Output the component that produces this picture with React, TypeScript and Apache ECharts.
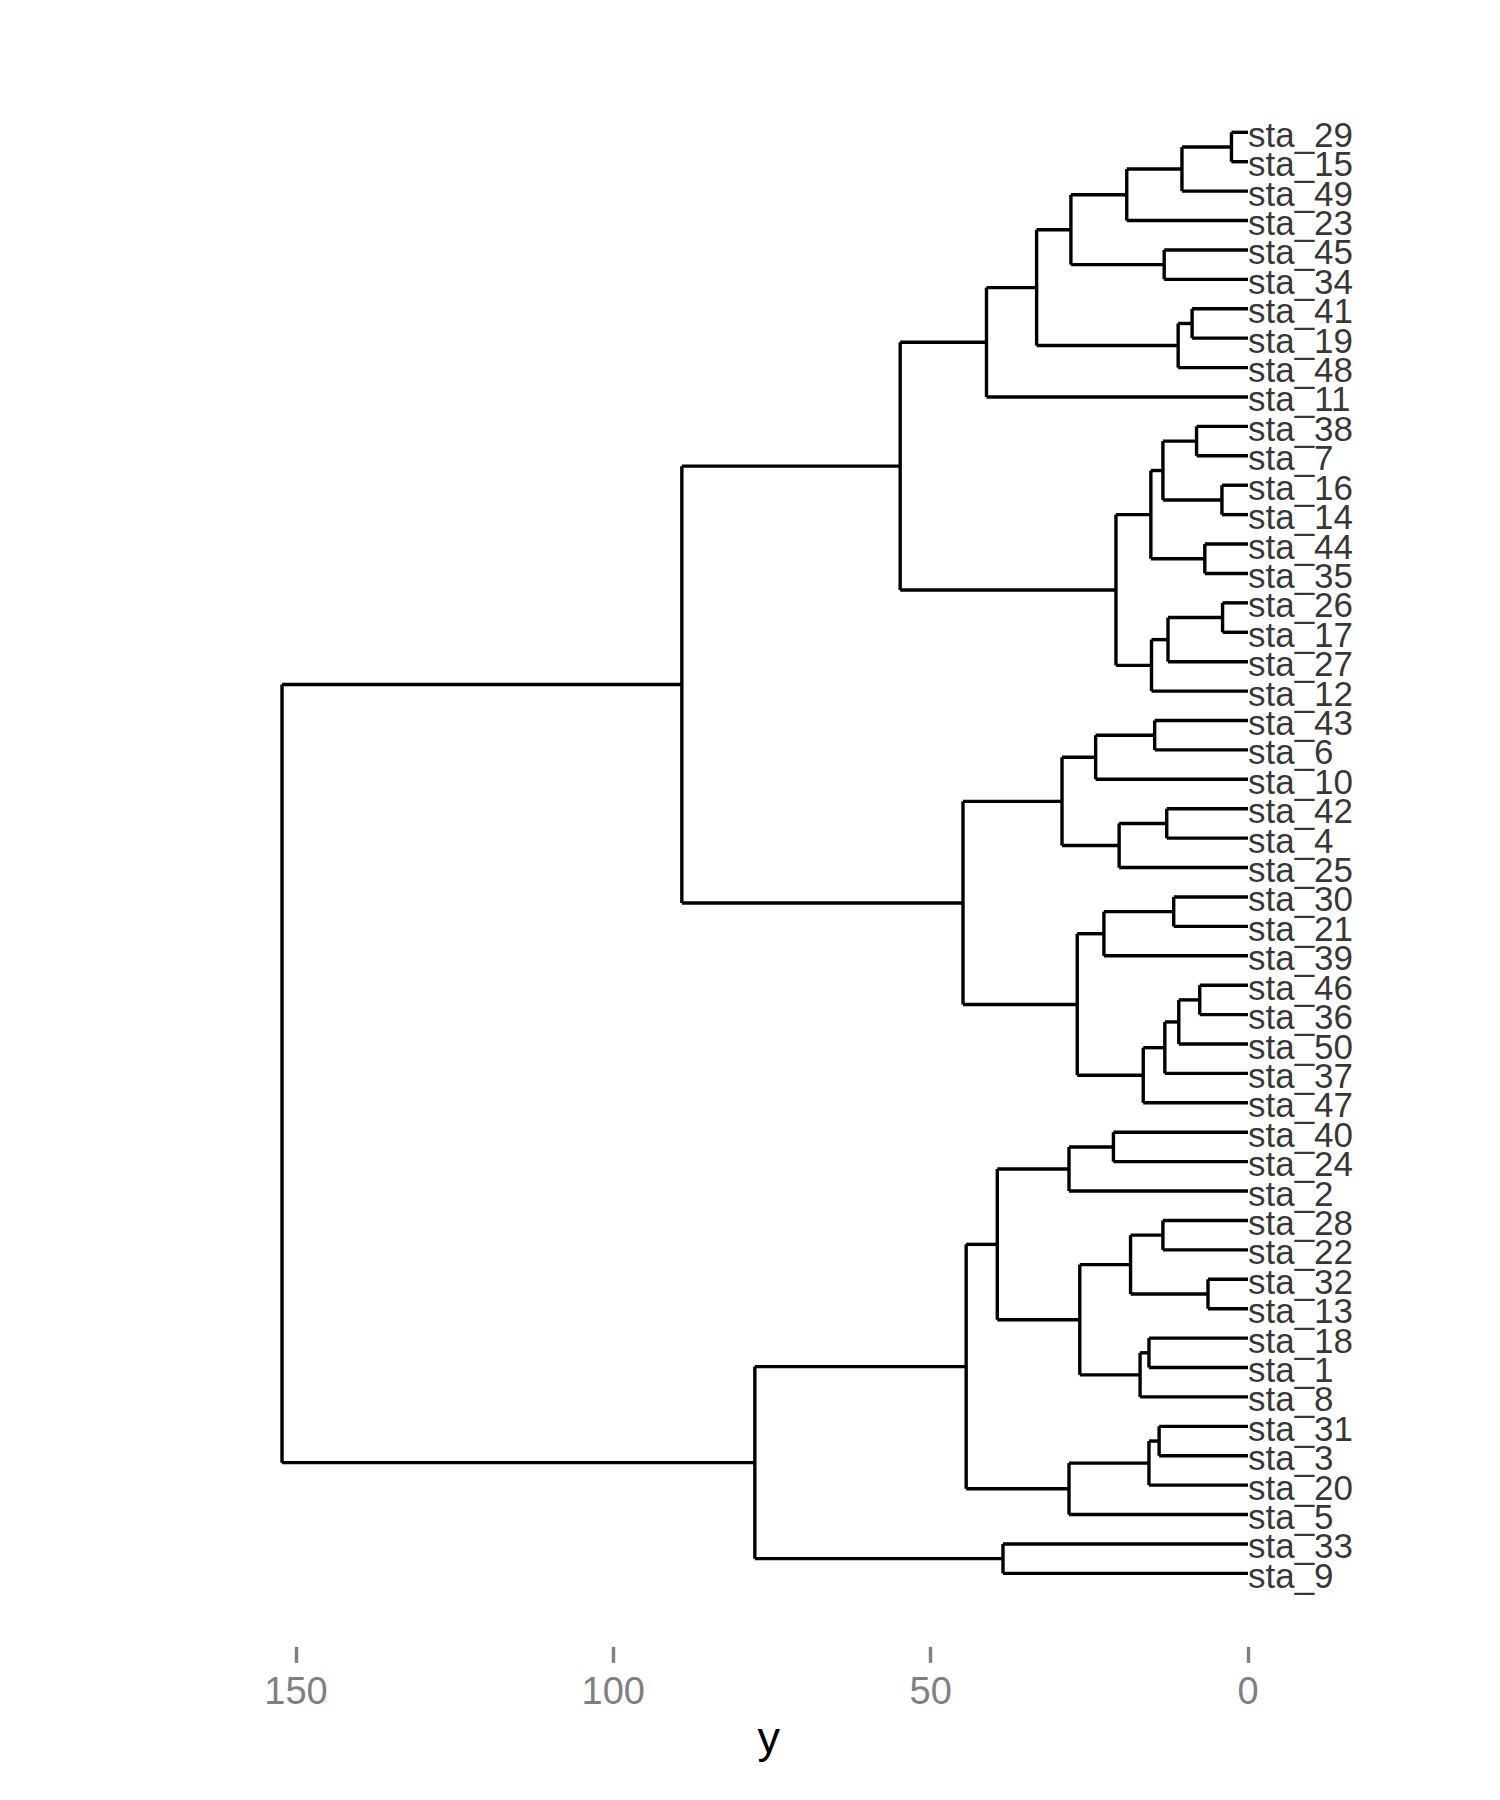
import { useEffect, useRef } from 'react'
import * as echarts from 'echarts'

// leaves, top to bottom
const leafLabels = [
  'sta_29', 'sta_15', 'sta_49', 'sta_23', 'sta_45', 'sta_34', 'sta_41', 'sta_19', 'sta_48', 'sta_11',
  'sta_38', 'sta_7', 'sta_16', 'sta_14', 'sta_44', 'sta_35', 'sta_26', 'sta_17', 'sta_27', 'sta_12',
  'sta_43', 'sta_6', 'sta_10', 'sta_42', 'sta_4', 'sta_25', 'sta_30', 'sta_21', 'sta_39', 'sta_46',
  'sta_36', 'sta_50', 'sta_37', 'sta_47', 'sta_40', 'sta_24', 'sta_2', 'sta_28', 'sta_22', 'sta_32',
  'sta_13', 'sta_18', 'sta_1', 'sta_8', 'sta_31', 'sta_3', 'sta_20', 'sta_5', 'sta_33', 'sta_9'
]

// hclust style merges: a child is a leaf name or the 1-based number of an earlier merge
const mergePairs: [string | number, string | number][] = [
  ['sta_29', 'sta_15'], [1, 'sta_49'], [2, 'sta_23'], ['sta_45', 'sta_34'], [3, 4],
  ['sta_41', 'sta_19'], [6, 'sta_48'], [5, 7], [8, 'sta_11'],
  ['sta_38', 'sta_7'], ['sta_16', 'sta_14'], [10, 11], ['sta_44', 'sta_35'], [12, 13],
  ['sta_26', 'sta_17'], [15, 'sta_27'], [16, 'sta_12'], [14, 17], [9, 18],
  ['sta_43', 'sta_6'], [20, 'sta_10'], ['sta_42', 'sta_4'], [22, 'sta_25'], [21, 23],
  ['sta_30', 'sta_21'], [25, 'sta_39'], ['sta_46', 'sta_36'], [27, 'sta_50'], [28, 'sta_37'],
  [29, 'sta_47'], [26, 30], [24, 31], [19, 32],
  ['sta_40', 'sta_24'], [34, 'sta_2'], ['sta_28', 'sta_22'], ['sta_32', 'sta_13'], [36, 37],
  ['sta_18', 'sta_1'], [39, 'sta_8'], [38, 40], [35, 41],
  ['sta_31', 'sta_3'], [43, 'sta_20'], [44, 'sta_5'], [42, 45],
  ['sta_33', 'sta_9'], [46, 47], [33, 48]
]

const mergeHeights = [
  2.6, 10.4, 19.1, 13.2, 27.9,
  8.8, 11.0, 33.3, 41.2,
  8.1, 4.1, 13.4, 6.8, 15.3,
  4.0, 12.6, 15.2, 20.8, 54.8,
  14.7, 24.0, 12.8, 20.3, 29.3,
  11.7, 22.7, 7.6, 10.9, 13.1,
  16.5, 26.9, 44.9, 89.2,
  21.2, 28.2, 13.4, 6.3, 18.5,
  15.6, 17.0, 26.5, 39.5,
  14.0, 15.6, 28.2, 44.4,
  38.6, 77.7, 152.2
]

const xTicks = [0, 50, 100, 150]

const FONT = '"Liberation Sans", Arial, sans-serif'

// turn the merges into elbow segments [h1, y1, h2, y2]
function buildSegments() {
  const leafPos: Record<string, number> = {}
  leafLabels.forEach((name, i) => { leafPos[name] = i + 1 })
  const nodeY: number[] = []
  const segs: number[][] = []
  const child = (c: string | number) =>
    typeof c === 'number'
      ? { y: nodeY[c - 1], h: mergeHeights[c - 1] }
      : { y: leafPos[c], h: 0 }

  mergePairs.forEach(([a, b], i) => {
    const h = mergeHeights[i]
    const ca = child(a)
    const cb = child(b)
    segs.push([h, ca.y, h, cb.y])
    segs.push([h, ca.y, ca.h, ca.y])
    segs.push([h, cb.y, cb.h, cb.y])
    nodeY.push((ca.y + cb.y) / 2)
  })
  return segs
}

export default function App() {
  const chartRef = useRef<HTMLDivElement>(null)

  useEffect(() => {
    if (!chartRef.current) return
    const chart = echarts.init(chartRef.current, null, { renderer: 'svg' })

    const segments = buildSegments()
    const leafData = leafLabels.map((name, i) => [0, i + 1, name])

    const option: echarts.EChartsOption = {
      animation: false,
      backgroundColor: '#fff',
      grid: {
        left: 241.4,
        right: 203.8,
        top: 117.6,
        bottom: 153.1,
        outerBoundsMode: 'none'
      } as any,
      xAxis: {
        type: 'value',
        inverse: true,
        min: -7.6,
        max: 158.6,
        name: 'y',
        nameLocation: 'middle',
        nameGap: 65,
        nameTextStyle: { fontSize: 45, color: '#000', fontFamily: FONT },
        axisLine: { show: false, onZero: false },
        splitLine: { show: false },
        axisTick: {
          show: true,
          length: 16,
          customValues: xTicks,
          lineStyle: { color: '#7f7f7f', width: 3.4 }
        } as any,
        axisLabel: {
          customValues: xTicks,
          color: '#7f7f7f',
          fontSize: 38,
          margin: 25,
          fontFamily: FONT
        } as any
      },
      yAxis: {
        type: 'value',
        inverse: true,
        min: 0.5,
        max: 52.5,
        show: false
      },
      series: [
        {
          type: 'custom',
          data: segments,
          encode: { x: [0, 2], y: [1, 3] },
          renderItem: (_params: any, api: any) => {
            const p1 = api.coord([api.value(0), api.value(1)])
            const p2 = api.coord([api.value(2), api.value(3)])
            return {
              type: 'line',
              shape: { x1: p1[0], y1: p1[1], x2: p2[0], y2: p2[1] },
              style: { stroke: '#000', lineWidth: 3.4, lineCap: 'butt' }
            }
          }
        },
        {
          type: 'scatter',
          data: leafData,
          symbolSize: 0,
          silent: true,
          label: {
            show: true,
            position: 'right',
            distance: 0,
            offset: [0, 2],
            formatter: (p: any) => p.value[2],
            color: '#000',
            fontSize: 35,
            fontFamily: FONT
          }
        }
      ]
    }

    chart.setOption(option)

    return () => {
      chart.dispose()
    }
  }, [])

  return (
    <div
      ref={chartRef}
      style={{ position: 'absolute', left: 0, top: 0, width: 1500, height: 1800 }}
    />
  )
}
